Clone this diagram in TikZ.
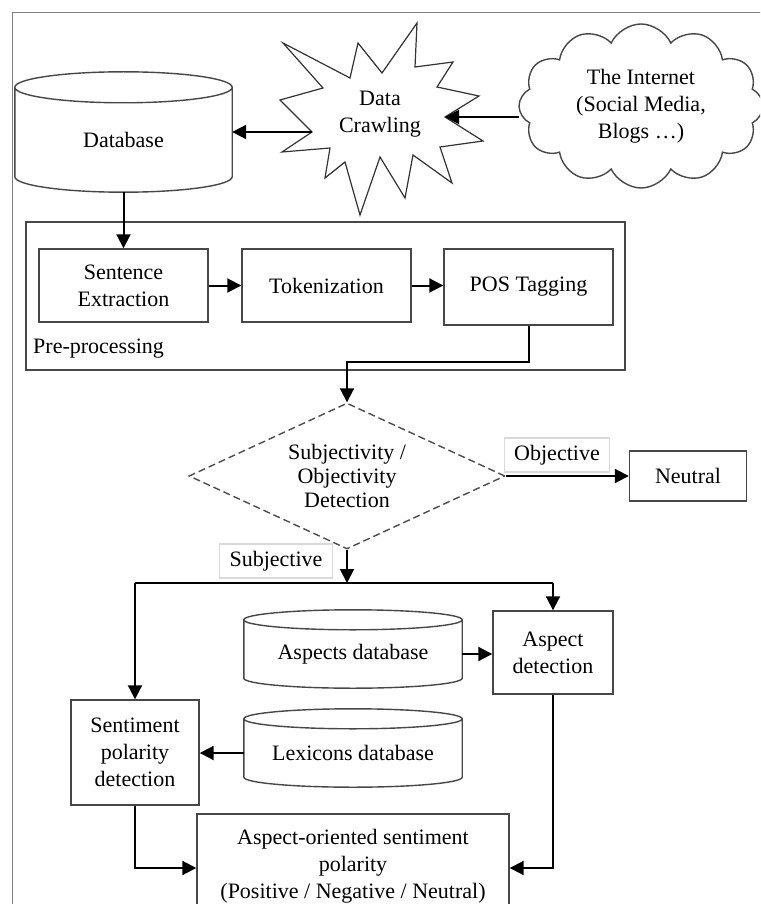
\documentclass[tikz,border=0pt]{standalone}
\usepackage{fontspec}
\setmainfont{Liberation Serif}
\usetikzlibrary{shapes.symbols,shapes.geometric,arrows.meta,calc}

% cylinder outline around a node that spans from the centre line of the top
% ellipse down to the lowest point of the bottom ellipse
\newcommand\dbcylinder[2]{%
  \draw[boxline] let \p1=(#1.north west), \p2=(#1.south east), \n1={(\x2-\x1)/2} in
    (\p1) -- (\x1,{\y2+#2}) arc[start angle=180, end angle=360, x radius=\n1, y radius=#2]
    -- (\x2,\y1) arc[start angle=0, end angle=180, x radius=\n1, y radius=#2]
    arc[start angle=180, end angle=360, x radius=\n1, y radius=#2];
}

\begin{document}
\begin{tikzpicture}[x=1pt,y=-1pt,
  every node/.style={font=\fontsize{22}{27}\selectfont, align=center, inner sep=0pt},
  boxline/.style={draw=black!72, line width=1.4pt},
  box/.style={boxline, rectangle, fill=white},
  arr/.style={line width=2pt, -{Triangle[length=14pt,width=14pt]}},
  conn/.style={line width=2pt},
  tag/.style={draw=black!15, line width=1.2pt, fill=white, inner xsep=10pt, inner ysep=7pt},
  cloudshape/.style={cloud, cloud puffs=12, cloud puff arc=130, aspect=1.45,
      minimum width=244pt, minimum height=164pt},
]
\clip (0,0) rectangle (760,904);
\fill[white] (0,0) rectangle (760,904);

% outer frame
\draw[draw=black!50, line width=1.5pt] (12.5,930) -- (12.5,12.5) -- (790,12.5);

% ---- sources ----
\node[minimum width=217pt, minimum height=104.5pt] (db) at (123.5,139.75) {Database};
\dbcylinder{db}{15.5pt}

\coordinate (crawlR) at (445,117);
\coordinate (crawlL) at (312,132);
\draw[draw=black!80, line width=1.2pt]
  (283,43) -- (350,78) -- (358,43) -- (382,73) -- (417,23) -- (415,67) -- (453,62)
  -- (437,87) -- (479,96) -- (crawlR) -- (483,141) -- (440,147) -- (452,183)
  -- (413,155) -- (405,198) -- (380,157) -- (360,215) -- (345,162) -- (325,178)
  -- (330,148) -- (282,152) -- (crawlL) -- (280,100) -- (323,88) -- cycle;
\node (crawl) at (380,114) {Data\\Crawling};

\node[cloudshape] (cloud) at (641,106) {};
\draw[arr] (cloud.west |- crawlR) -- (crawlR);
\node[cloudshape, boxline, fill=white] (internet) at (641,106)
      {The Internet\\(Social Media,\\Blogs \dots)};
\draw[arr] (crawlL) -- (crawlL -| db.east);

% ---- pre-processing ----
\node[boxline, minimum width=599pt, minimum height=148pt] (pre) at (325.5,296) {};
\node[box, minimum width=169pt, minimum height=73pt] (sent) at (123.5,285.5) {Sentence\\Extraction};
\node[box, minimum width=169pt, minimum height=73pt] (tok) at (326.5,285.5) {Tokenization};
\node[box, minimum width=169pt, minimum height=76pt] (pos) at (528.5,287) {POS Tagging};
\node[anchor=west] (prelabel) at (33,349) {Pre-processing};

\draw[arr] (db.south) -- (sent.north);
\draw[arr] (sent.east) -- (tok.west);
\draw[arr] (tok.east) -- (tok.east -| pos.west);

% ---- subjectivity test ----
\node[diamond, aspect=2.16, draw=black!70, line width=1.4pt, dash pattern=on 7pt off 4pt,
      minimum width=316pt, minimum height=146pt,
      font=\fontsize{22}{24}\selectfont] (dia) at (347,476)
      {Subjectivity /\\Objectivity\\Detection};
\draw[arr] (pos.south) -- ++(0,36) -| (dia.north);

\node[box, minimum width=117pt, minimum height=50pt] (neutral) at (688,476) {Neutral};
\node[tag] (objtag) at (557,455) {Objective};
\draw[arr] (dia.east) -- (neutral.west);

\node[tag] (subjtag) at (276,561) {Subjective};
\coordinate (jn) at (347,583);
\draw[arr] (dia.south) -- (jn);

% ---- aspect and polarity ----
\node[minimum width=218pt, minimum height=68pt] (adb) at (353,654) {Aspects database};
\dbcylinder{adb}{10pt}
\node[minimum width=218pt, minimum height=68pt] (ldb) at (353,753) {Lexicons database};
\dbcylinder{ldb}{10pt}

\node[box, minimum width=120pt, minimum height=83pt] (ad) at (553,652.5) {Aspect\\detection};
\node[box, minimum width=128pt, minimum height=105pt] (sp) at (135,752.5) {Sentiment\\polarity\\detection};
\node[box, minimum width=312pt, minimum height=104pt] (final) at (353,866)
      {Aspect-oriented sentiment\\polarity\\(Positive / Negative / Neutral)};

\draw[conn] (sp.north |- jn) -- (ad.north |- jn);
\draw[arr] (sp.north |- jn) -- (sp.north);
\draw[arr] (ad.north |- jn) -- (ad.north);
\draw[arr] (adb.east) -- (adb.east -| ad.west);
\draw[arr] (ldb.west) -- (ldb.west -| sp.east);
\draw[arr] (sp.south) |- ([yshift=-2pt]final.west);
\draw[arr] (ad.south) |- ([yshift=-2pt]final.east);
\end{tikzpicture}
\end{document}
